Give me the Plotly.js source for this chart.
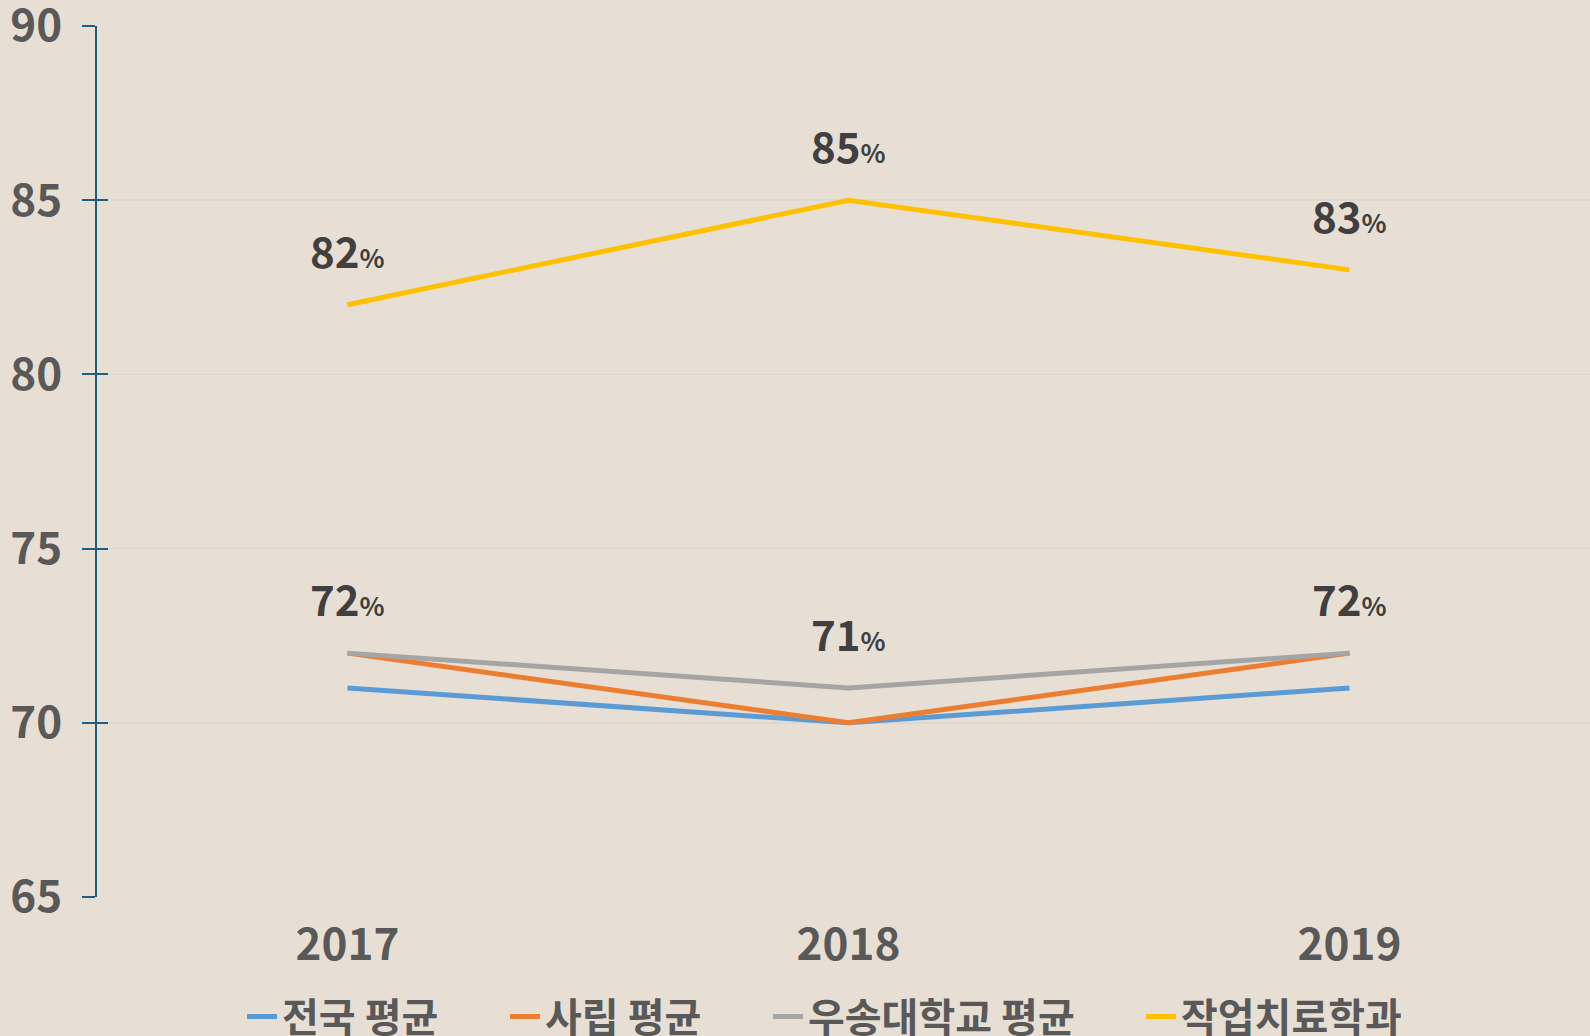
<!DOCTYPE html>
<html>
<head>
<meta charset="utf-8">
<script src="https://cdn.plot.ly/plotly-3.0.1.min.js"></script>
<style>
html,body{margin:0;padding:0;background:#E7DFD4;}
#chart{width:1590px;height:1036px;}
</style>
</head>
<body>
<div id="chart"></div>
<script>
// ---- data ----
const years = ['2017', '2018', '2019'];
const seriesNames = ['전국 평균', '사립 평균', '우송대학교 평균', '작업치료학과'];
const national = [71, 70, 71];
const privateAvg = [72, 70, 72];
const woosong = [72, 71, 72];
const otDept = [82, 85, 83];
const yTicks = [65, 70, 75, 80, 85, 90];

// ---- styles ----
const colors = ['#5B9BD5', '#ED7D31', '#A5A5A5', '#FFC000'];
const FONT = '"Noto Sans CJK KR", "Noto Sans", sans-serif';
const allSeries = [national, privateAvg, woosong, otDept];
const legendX = [242, 505, 768, 1141];

const traces = allSeries.map((vals, i) => ({
  type: 'scatter',
  mode: 'lines',
  x: years,
  y: vals,
  name: seriesNames[i],
  legend: i === 0 ? 'legend' : 'legend' + (i + 1),
  line: {color: colors[i], width: 5},
  hoverinfo: 'skip'
}));
// invisible trace so the overlay axis (inside tick marks) is drawn
traces.unshift({
  type: 'scatter', mode: 'lines', x: years, y: otDept, yaxis: 'y2',
  showlegend: false, hoverinfo: 'skip', line: {width: 0, color: 'rgba(0,0,0,0)'}
});

const labelSeries = [woosong, otDept];
const annotations = [];
labelSeries.forEach(vals => {
  vals.forEach((v, j) => {
    annotations.push({
      xref: 'x', yref: 'y', x: j, y: v,
      text: '<b>' + v + '</b><span style="font-size:26px"><b>%</b></span>',
      showarrow: false, yanchor: 'bottom', yshift: 23,
      font: {family: FONT, size: 42, color: '#404040'}
    });
  });
});

function legendCfg(px) {
  return {
    orientation: 'h', xref: 'container', yref: 'container',
    x: px / 1590, xanchor: 'left', y: (1036 - 984) / 1036, yanchor: 'top',
    font: {family: FONT, size: 40, color: '#595959', weight: 'bold'},
    bgcolor: 'rgba(0,0,0,0)', itemwidth: 30
  };
}

const layout = {
  width: 1590, height: 1036,
  paper_bgcolor: '#E7DFD4', plot_bgcolor: '#E7DFD4',
  margin: {l: 97, r: 0, t: 26, b: 139},
  font: {family: FONT, color: '#595959'},
  showlegend: true,
  legend: legendCfg(legendX[0]),
  legend2: legendCfg(legendX[1]),
  legend3: legendCfg(legendX[2]),
  legend4: legendCfg(legendX[3]),
  xaxis: {
    type: 'category', range: [-0.5, 2.48], showgrid: false, zeroline: false,
    showline: false, ticks: '', fixedrange: true,
    tickfont: {family: FONT, size: 44, color: '#595959', weight: 'bold'},
    ticklabelstandoff: 18
  },
  yaxis: {
    range: [65, 90], tickvals: yTicks,
    showgrid: true, gridcolor: '#DDD8D2', gridwidth: 1.5, zeroline: false,
    showline: true, linecolor: '#1F5E80', linewidth: 2,
    ticks: 'outside', ticklen: 13, tickwidth: 2, tickcolor: '#1F5E80',
    tickfont: {family: FONT, size: 44, color: '#595959', weight: 'bold'},
    ticklabelstandoff: 11, ticklabeloverflow: 'allow', fixedrange: true
  },
  yaxis2: {
    overlaying: 'y', side: 'left', anchor: 'x', range: [65, 90], tickvals: yTicks,
    showticklabels: false, showgrid: false, zeroline: false, showline: false,
    ticks: 'inside', ticklen: 11, tickwidth: 2, tickcolor: '#1F5E80', fixedrange: true
  },
  annotations: annotations
};

Plotly.newPlot('chart', traces, layout, {displayModeBar: false, staticPlot: true});
</script>
</body>
</html>
